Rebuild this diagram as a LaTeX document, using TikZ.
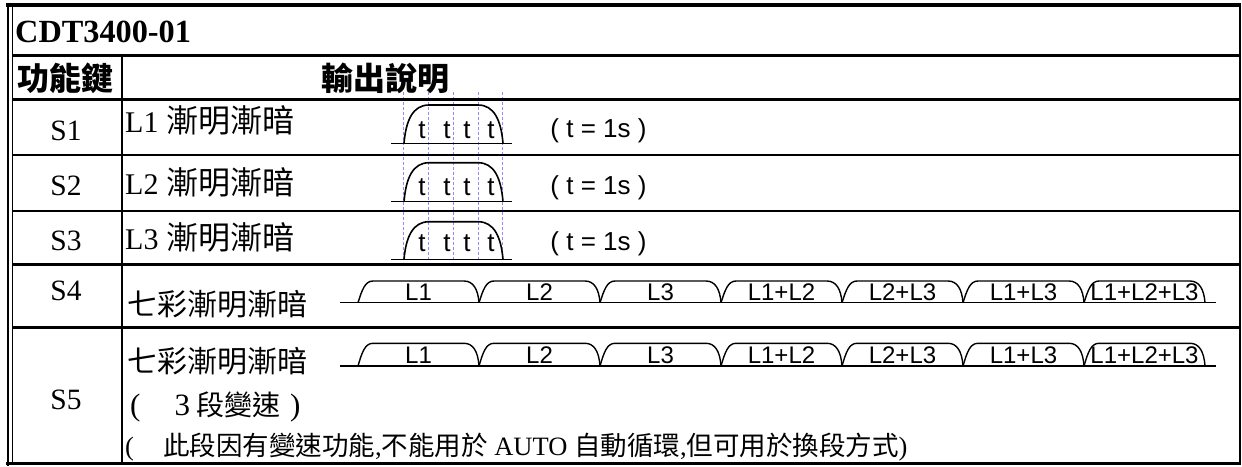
\documentclass[tikz,border=0pt]{standalone}
\usepackage{fontspec}
\setmainfont{Liberation Serif}
\newfontfamily\cjk{Noto Sans CJK TC}
\newfontfamily\arial{Liberation Sans}
\newcommand\fadewave[3]{% #1 top y, #2 base y, #3 text base y
  \draw[wavebase] (391,#2) -- (511.7,#2);
  \draw[wave] (404,#2) .. controls (406,#1+15) and (413,#1) .. (429,#1) -- (478,#1)
     .. controls (494,#1) and (501,#1+15) .. (503,#2);
  \foreach \xx [count=\k] in {422,447,467,491}
    \node[ttxt] (t#1-\k) at (\xx,#3) {t};
}
\newcommand\tabrow[3]{% #1 top y, #2 base y, #3 name
  \draw[wavebase] (340,#2) -- (1216,#2);
  \foreach \a/\lbl [count=\k] in {358/L1,479/L2,600/L3,721/L1+L2,842/L2+L3,963/L1+L3,1084/L1+L2+L3}{
    \draw[tabline] (\a,#2) .. controls (\a+4,#1+9) and (\a+7,#1) .. (\a+15,#1) -- (\a+106,#1)
       .. controls (\a+115,#1) and (\a+120,#1+8) .. (\a+121,#2);
    \node[tabtxt] (#3-\k) at (\a+60.5,#2-2.5) {\lbl};
  }
}
\newcommand\lampdesc[1]{#1 {\cjk\fontsize{32}{34}\selectfont 漸明漸暗}}
\tikzset{
  grid/.style={line width=2.2pt},
  wave/.style={line width=1.6pt},
  wavebase/.style={line width=1.4pt},
  tabline/.style={line width=1.4pt},
  guide/.style={draw=blue!45, line width=0.6pt, dash pattern=on 3pt off 2pt},
  ttxt/.style={anchor=base, inner sep=0pt, font=\arial\fontsize{26}{28}\selectfont},
  tabtxt/.style={anchor=base, inner sep=0pt, font=\arial\fontsize{24}{26}\selectfont},
  keytxt/.style={anchor=base, inner sep=0pt, font=\fontsize{29.5}{31}\selectfont},
  desc/.style={anchor=base west, inner sep=0pt, font=\fontsize{30}{32}\selectfont},
  note/.style={anchor=base west, inner sep=0pt, font=\fontsize{26.5}{28}\selectfont},
}
\begin{document}
\begin{tikzpicture}[x=1pt,y=-1pt]
\useasboundingbox (0,0) rectangle (1242,466);
\fill[white] (0,0) rectangle (1242,466);
% dashed guides
\foreach \gx in {403,428.5,453,478,502.5}
  \draw[guide] (\gx,92) -- (\gx,262);
% outer frame
\draw[line width=4pt] (6,5) -- (1241,5);
\draw[line width=2pt] (1240,4) -- (1240,465);
\draw[line width=3pt] (6,463.5) -- (1241,463.5);
\draw[line width=2.2pt] (8,3) -- (8,466);
\draw[line width=1.7pt] (12.5,5) -- (12.5,464);
% grid
\foreach \gy in {55.5,99.5,155,211,264.5,327.5}
  \draw[grid] (12.5,\gy) -- (1240,\gy);
\draw[grid] (122,55.5) -- (122,463);
% title and header
\node[anchor=base west, inner sep=0pt, font=\bfseries\fontsize{32.3}{34}\selectfont] (title) at (15,42) {CDT3400-01};
\node[anchor=base, inner sep=0pt, font=\cjk\bfseries\fontsize{32}{34}\selectfont] (hkey) at (65,90) {功能鍵};
\node[anchor=base, inner sep=0pt, font=\cjk\bfseries\fontsize{32}{34}\selectfont] (hout) at (385,90) {輸出說明};
% key column
\node[keytxt] (s1) at (66,140) {S1};
\node[keytxt] (s2) at (66,195) {S2};
\node[keytxt] (s3) at (66,250) {S3};
\node[keytxt] (s4) at (66,300) {S4};
\node[keytxt] (s5) at (66,409) {S5};
% descriptions
\node[desc] (d1) at (125,132) {\lampdesc{L1}};
\node[desc] (d2) at (125,194) {\lampdesc{L2}};
\node[desc] (d3) at (125,249) {\lampdesc{L3}};
\node[desc] (d4) at (127,315) {\cjk 七彩漸明漸暗};
\node[desc] (d5) at (127,372) {\cjk 七彩漸明漸暗};
\node[anchor=base west, inner sep=0pt, font=\fontsize{31}{33}\selectfont] (d5b) at (130,415) {(\hspace{34pt}3\hspace{6pt}{\cjk\fontsize{28}{30}\selectfont 段變速}\hspace{10pt})};
\node[note] (n5) at (125,455) {(\hspace{29pt}{\cjk 此段因有變速功能},{\cjk 不能用於} AUTO {\cjk 自動循環},{\cjk 但可用於換段方式})};
% single-lamp waves
\fadewave{105}{143.3}{138}
\fadewave{162.7}{201.7}{195}
\fadewave{221.7}{259.3}{251}
\foreach \yy [count=\k] in {137,194,250}
  \node[anchor=base, inner sep=0pt, font=\arial\fontsize{26}{28}\selectfont] (tdef\k) at (598.5,\yy) {( t = 1s )};
% seven-colour tabs
\tabrow{281}{302.7}{tabA}
\tabrow{343.3}{366}{tabB}
\end{tikzpicture}
\end{document}
